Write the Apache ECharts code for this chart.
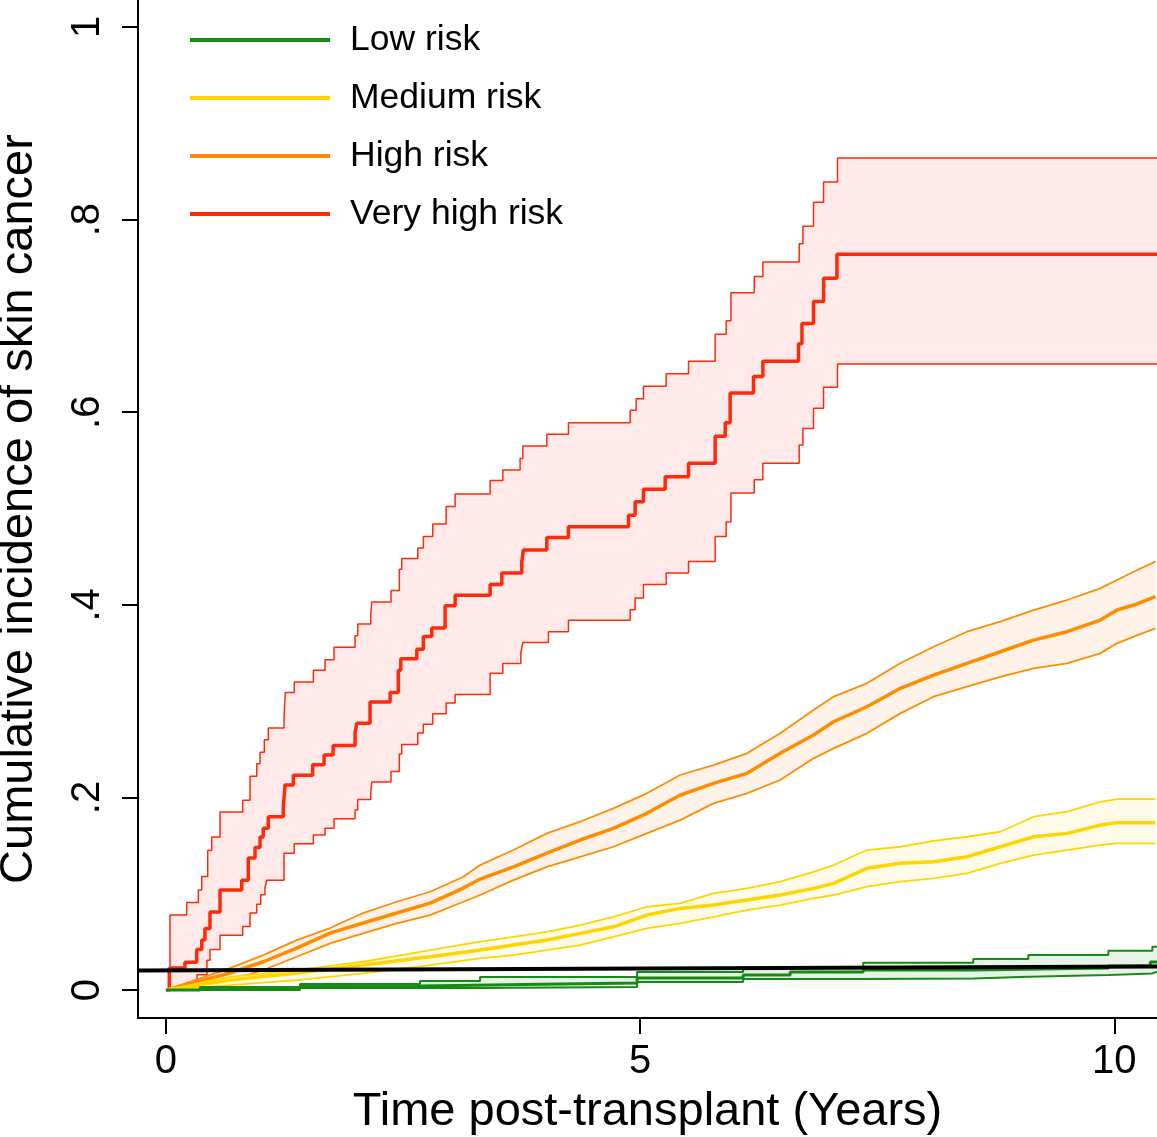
<!DOCTYPE html>
<html><head><meta charset="utf-8">
<script src="https://cdn.jsdelivr.net/npm/echarts@6/dist/echarts.min.js"></script>
<style>html,body{margin:0;padding:0;background:#fff}#c{width:1157px;height:1137px}</style>
</head><body><div id="c"></div>
<script>
// ---------- data ----------
const xTicks = [0, 5, 10];
const yTicks = [0, 0.2, 0.4, 0.6, 0.8, 1];
const legendNames = ['Low risk', 'Medium risk', 'High risk', 'Very high risk'];

// Very high risk (step function): [years, cumulative incidence]
const veryHighEst = [[0,0],[0.035,0.023],[0.200,0.029],[0.324,0.042],[0.377,0.052],[0.411,0.064],[0.464,0.081],[0.570,0.104],[0.799,0.114],[0.868,0.137],[0.939,0.148],[0.992,0.159],[1.026,0.168],[1.079,0.180],[1.237,0.189],[1.255,0.213],[1.343,0.223],[1.547,0.234],[1.667,0.244],[1.762,0.254],[1.994,0.267],[2.012,0.277],[2.152,0.299],[2.363,0.309],[2.450,0.332],[2.476,0.344],[2.645,0.354],[2.714,0.367],[2.803,0.376],[2.943,0.399],[3.049,0.410],[3.418,0.421],[3.541,0.433],[3.752,0.445],[3.769,0.457],[4.016,0.470],[4.244,0.481],[4.877,0.493],[4.947,0.507],[5.035,0.520],[5.264,0.533],[5.510,0.547],[5.791,0.575],[5.897,0.589],[5.949,0.620],[6.195,0.637],[6.294,0.653],[6.670,0.671],[6.706,0.692],[6.828,0.715],[6.934,0.739],[7.075,0.764],[10.45,0.764]];
const veryHighUpper = [[0,0],[0.042,0.078],[0.218,0.091],[0.341,0.104],[0.377,0.118],[0.440,0.145],[0.482,0.159],[0.570,0.185],[0.809,0.197],[0.886,0.222],[0.957,0.235],[0.992,0.247],[1.037,0.260],[1.079,0.272],[1.245,0.284],[1.258,0.309],[1.353,0.320],[1.554,0.332],[1.677,0.343],[1.772,0.356],[1.994,0.368],[2.022,0.380],[2.159,0.391],[2.170,0.403],[2.373,0.415],[2.461,0.437],[2.486,0.448],[2.655,0.459],[2.714,0.471],[2.813,0.484],[2.954,0.502],[3.049,0.515],[3.418,0.529],[3.552,0.540],[3.734,0.552],[3.763,0.565],[4.016,0.577],[4.244,0.589],[4.895,0.602],[4.958,0.614],[5.035,0.627],[5.274,0.640],[5.510,0.653],[5.791,0.681],[5.907,0.695],[5.957,0.724],[6.203,0.741],[6.294,0.756],[6.677,0.775],[6.716,0.793],[6.828,0.818],[6.934,0.839],[7.081,0.864],[10.45,0.864]];
const veryHighLower = [[0,0],[0.211,0.007],[0.327,0.016],[0.432,0.031],[0.464,0.042],[0.570,0.057],[0.809,0.066],[0.886,0.080],[0.957,0.089],[0.999,0.099],[1.044,0.106],[1.062,0.114],[1.245,0.142],[1.353,0.152],[1.554,0.161],[1.677,0.168],[1.772,0.178],[1.994,0.187],[2.022,0.198],[2.159,0.205],[2.170,0.216],[2.373,0.227],[2.461,0.245],[2.486,0.255],[2.655,0.267],[2.714,0.276],[2.813,0.287],[2.954,0.298],[3.049,0.307],[3.418,0.329],[3.552,0.339],[3.742,0.350],[3.763,0.361],[4.033,0.372],[4.244,0.384],[4.895,0.395],[4.947,0.407],[5.035,0.421],[5.274,0.433],[5.510,0.445],[5.791,0.471],[5.907,0.486],[5.957,0.516],[6.203,0.530],[6.294,0.547],[6.677,0.566],[6.716,0.583],[6.828,0.604],[6.934,0.626],[7.081,0.650],[10.45,0.650]];

// High risk
const highEst = [[0,0],[0.675,0.0177],[1.026,0.0294],[1.379,0.0436],[1.730,0.0592],[2.078,0.0696],[2.434,0.0800],[2.785,0.0903],[3.136,0.1059],[3.312,0.1153],[3.664,0.1280],[4.016,0.1423],[4.367,0.1558],[4.718,0.1679],[5.071,0.1835],[5.422,0.2025],[5.773,0.2146],[6.126,0.2250],[6.477,0.2458],[6.828,0.2648],[7.039,0.2786],[7.391,0.2942],[7.743,0.3133],[8.094,0.3271],[8.446,0.3393],[8.797,0.3513],[9.149,0.3634],[9.501,0.3721],[9.852,0.3842],[10.028,0.3946],[10.204,0.3998],[10.433,0.4084]];
const highUpper = [[0,0],[0.675,0.0228],[1.026,0.0363],[1.379,0.0519],[1.730,0.0644],[2.078,0.0800],[2.434,0.0917],[2.785,0.1021],[3.136,0.1177],[3.312,0.1298],[3.664,0.1454],[4.016,0.1627],[4.367,0.1748],[4.718,0.1887],[5.071,0.2043],[5.422,0.2233],[5.773,0.2336],[6.126,0.2458],[6.477,0.2666],[6.828,0.2908],[7.039,0.3046],[7.391,0.3185],[7.743,0.3393],[8.094,0.3565],[8.446,0.3721],[8.797,0.3825],[9.149,0.3946],[9.501,0.4050],[9.852,0.4171],[10.028,0.4258],[10.204,0.4344],[10.433,0.4448]];
const highLower = [[0,0],[0.675,0.0104],[1.026,0.0208],[1.379,0.0346],[1.730,0.0485],[2.078,0.0589],[2.434,0.0693],[2.785,0.0779],[3.136,0.0917],[3.312,0.0987],[3.664,0.1142],[4.016,0.1280],[4.367,0.1384],[4.718,0.1488],[5.071,0.1627],[5.422,0.1765],[5.773,0.1939],[6.126,0.2043],[6.477,0.2181],[6.828,0.2406],[7.039,0.2510],[7.391,0.2666],[7.743,0.2873],[8.094,0.3046],[8.446,0.3150],[8.797,0.3253],[9.149,0.3341],[9.501,0.3393],[9.852,0.3496],[10.028,0.3600],[10.204,0.3669],[10.433,0.3756]];

// Medium risk
const mediumEst = [[0,0],[0.675,0.0104],[1.379,0.0177],[2.081,0.0260],[2.785,0.0346],[3.312,0.0415],[3.664,0.0467],[4.016,0.0519],[4.367,0.0589],[4.718,0.0657],[5.071,0.0779],[5.422,0.0848],[5.773,0.0883],[6.126,0.0935],[6.477,0.0987],[6.828,0.1056],[7.039,0.1108],[7.391,0.1264],[7.743,0.1316],[8.094,0.1332],[8.446,0.1384],[8.797,0.1488],[9.149,0.1592],[9.501,0.1627],[9.852,0.1713],[10.028,0.1737],[10.433,0.1737]];
const mediumUpper = [[0,0],[0.675,0.0138],[1.379,0.0208],[2.081,0.0294],[2.785,0.0415],[3.312,0.0502],[3.664,0.0553],[4.016,0.0605],[4.367,0.0675],[4.718,0.0761],[5.071,0.0865],[5.422,0.0900],[5.773,0.1004],[6.126,0.1056],[6.477,0.1125],[6.828,0.1228],[7.039,0.1298],[7.391,0.1454],[7.743,0.1488],[8.094,0.1550],[8.446,0.1592],[8.797,0.1644],[9.149,0.1800],[9.501,0.1852],[9.852,0.1955],[10.028,0.1983],[10.433,0.1983]];
const mediumLower = [[0,0],[0.675,0.0052],[1.379,0.0104],[2.081,0.0173],[2.785,0.0260],[3.312,0.0329],[3.664,0.0363],[4.016,0.0415],[4.367,0.0467],[4.718,0.0553],[5.071,0.0641],[5.422,0.0693],[5.773,0.0761],[6.126,0.0831],[6.477,0.0883],[6.828,0.0952],[7.039,0.0987],[7.391,0.1073],[7.743,0.1125],[8.094,0.1160],[8.446,0.1212],[8.797,0.1316],[9.149,0.1402],[9.501,0.1454],[9.852,0.1506],[10.028,0.1523],[10.433,0.1523]];

// Low risk (step function)
const lowEst = [[0,0],[0.359,0.0021],[1.414,0.0042],[2.679,0.0062],[4.156,0.0073],[4.968,0.0125],[6.086,0.0156],[6.582,0.0187],[7.352,0.0208],[8.513,0.0228],[9.937,0.0249],[10.380,0.0291],[10.45,0.0291]];
const lowUpper = [[0,0],[0.359,0.0031],[1.414,0.0062],[2.679,0.0093],[3.312,0.0135],[4.968,0.0187],[6.086,0.0228],[7.352,0.0283],[8.513,0.0322],[9.093,0.0364],[9.937,0.0408],[10.401,0.0449],[10.45,0.0449]];
const lowLower = [[0,0],[1.414,0.0021],[3.312,0.0031],[4.968,0.0083],[6.086,0.0114],[7.352,0.0121],[8.513,0.0138],[9.093,0.0156],[9.937,0.0173],[10.401,0.0190],[10.45,0.0190]];

// Reference (black) line
const referenceLine = [[-0.3,0.0202],[10.45,0.0245]];

// ---------- chart ----------
const FONT = "'Liberation Sans', Arial, Helvetica, sans-serif";
const groups = [
  {name:'Very high risk', est:veryHighEst, up:veryHighUpper, lo:veryHighLower, step:true,  color:'#ff2a0a', fill:'#ffe9e9', w:3.5, cw:1.5},
  {name:'High risk',      est:highEst,     up:highUpper,     lo:highLower,     step:false, color:'#ff8c00', fill:'#fff3e9', w:3.5, cw:1.8},
  {name:'Medium risk',    est:mediumEst,   up:mediumUpper,   lo:mediumLower,   step:false, color:'#ffd500', fill:'#fffbe8', w:3.5, cw:1.8},
  {name:'Low risk',       est:lowEst,      up:lowUpper,      lo:lowLower,      step:true,  color:'#158a15', fill:'#e6f3e6', w:3, cw:2}
];

function expandStep(arr){
  const out=[];
  for(let i=0;i<arr.length;i++){
    out.push(arr[i]);
    if(i<arr.length-1) out.push([arr[i+1][0], arr[i][1]]);
  }
  return out;
}

const series = [];
groups.forEach((g, gi) => {
  const upPts = g.step ? expandStep(g.up) : g.up;
  const loPts = g.step ? expandStep(g.lo) : g.lo;
  series.push({
    type:'custom', coordinateSystem:'cartesian2d', silent:true, clip:true,
    z: 1 + gi*3, data:[[0,0]],
    renderItem: (params, api) => {
      const poly = upPts.concat(loPts.slice().reverse()).map(p => api.coord(p));
      return {type:'polygon', shape:{points:poly}, style:{fill:g.fill, stroke:null}};
    }
  });
  [g.up, g.lo].forEach(d => series.push({
    type:'line', data:d, step:g.step?'end':false, showSymbol:false, silent:true,
    z: 2 + gi*3, lineStyle:{color:g.color, width:g.cw}, clip:true
  }));
  series.push({
    name:g.name, type:'line', data:g.est, step:g.step?'end':false, showSymbol:false, silent:true,
    z: 3 + gi*3, color:g.color, lineStyle:{color:g.color, width:g.w}, clip:true
  });
});
series.push({type:'line', data:referenceLine, showSymbol:false, silent:true, z:30,
  lineStyle:{color:'#000', width:4}, clip:true});

const chart = echarts.init(document.getElementById('c'), null, {renderer:'canvas'});
chart.setOption({
  animation:false,
  backgroundColor:'#fff',
  textStyle:{fontFamily:FONT},
  grid:{left:138, right:0, top:0, bottom:119, containLabel:false, outerBoundsMode:'none'},
  legend:{
    data:legendNames, orient:'vertical', left:190, top:22, padding:0,
    itemWidth:140, itemHeight:4, itemGap:22, icon:'rect',
    textStyle:{fontSize:35.5, color:'#000', fontFamily:FONT, lineHeight:36, padding:[0,0,0,15]},
    selectedMode:false
  },
  xAxis:{
    type:'value', min:-0.295, max:10.45,
    name:'Time post-transplant (Years)', nameLocation:'middle', nameGap:71,
    nameTextStyle:{fontSize:47, color:'#000', fontFamily:FONT},
    axisLine:{onZero:false, lineStyle:{color:'#000', width:2}},
    axisTick:{show:true, length:16, lineStyle:{color:'#000', width:2}, customValues:xTicks},
    axisLabel:{fontSize:40, color:'#000', margin:24, customValues:xTicks, fontFamily:FONT},
    splitLine:{show:false}
  },
  yAxis:{
    type:'value', min:-0.029, max:1.028,
    name:'Cumulative incidence of skin cancer', nameLocation:'middle', nameGap:95, nameRotate:90,
    nameTextStyle:{fontSize:47, color:'#000', fontFamily:FONT},
    axisLine:{onZero:false, lineStyle:{color:'#000', width:2}},
    axisTick:{show:true, length:16, lineStyle:{color:'#000', width:2}, customValues:yTicks},
    axisLabel:{fontSize:40, color:'#000', margin:30, rotate:90, customValues:yTicks, fontFamily:FONT,
      formatter: v => { if (Math.abs(v) < 1e-9) return '0'; if (Math.abs(v-1) < 1e-9) return '1'; return '.' + Math.round(v*10); }},
    splitLine:{show:false}
  },
  series:series
});
</script></body></html>
